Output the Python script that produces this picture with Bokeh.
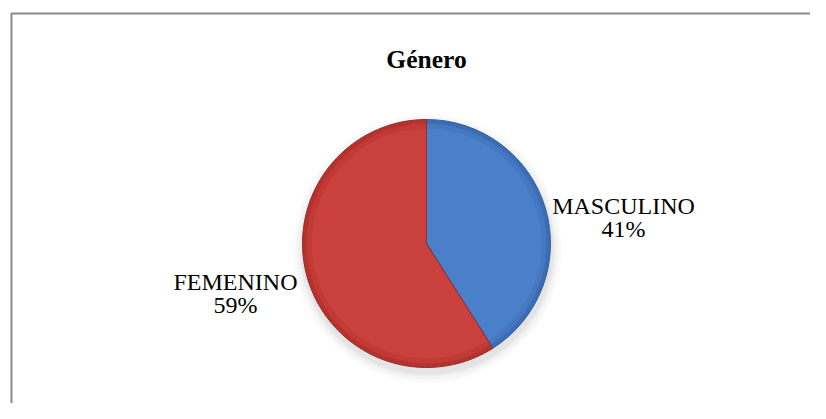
import math
from bokeh.plotting import figure
from bokeh.models import Range1d
from bokeh.core.properties import value
from bokeh.embed import file_html
from bokeh.resources import INLINE

# ---- data ----
title_text = "Género"
categories = ["MASCULINO", "FEMENINO"]
percents = [41, 59]
label_texts = ["41%", "59%"]

W, H = 810, 403
p = figure(width=W, height=H, output_backend="svg", toolbar_location=None,
           x_range=Range1d(0, W), y_range=Range1d(0, H), min_border=0,
           outline_line_color=None, background_fill_color="white")
p.axis.visible = False
p.grid.visible = False

# chart-area frame (only left and top visible in the crop)
p.line(x=[11, 11, W], y=[0, H - 13, H - 13], line_color="#8a8a8a", line_width=2)

cx, cy, r = 426, 160, 124

# angles (clockwise from 12 o'clock)
total = float(sum(percents))
starts, ends = [], []
a = math.pi / 2
for v in percents:
    starts.append(a)
    a = a - 2 * math.pi * v / total
    ends.append(a)

# soft shadow
for dr, al in [(10, 0.03), (7, 0.04), (4, 0.05), (2, 0.06)]:
    p.circle(x=[cx + 1], y=[cy - 5], radius=r + dr, fill_color="#606060",
             fill_alpha=al, line_color=None)

base_cols = ["#3c6db4", "#b5322f"]
mid_cols = ["#4479c2", "#c23a36"]
in_cols = ["#4a80c9", "#c9403c"]

for cols, rr in [(base_cols, r), (mid_cols, r - 4), (in_cols, r - 9)]:
    p.wedge(x=[cx] * 2, y=[cy] * 2, radius=rr, start_angle=ends, end_angle=starts,
            fill_color=cols, line_color=None)
# separators / edge
p.wedge(x=[cx] * 2, y=[cy] * 2, radius=r, start_angle=ends, end_angle=starts,
        fill_color=None, line_color=["#345f9e", "#9a2b28"], line_width=1)

font = value("Liberation Serif")
# title
p.text(x=[426], y=[344], text=[title_text], text_font=font, text_font_size="25.5px",
       text_font_style="bold", text_align="center", text_baseline="alphabetic",
       text_color="#000000")

# labels
lab_x = [623, 235]
lab_y1 = [198, 122]
lab_y2 = [175, 99]
p.text(x=lab_x, y=lab_y1, text=categories, text_font=font, text_font_size="24px",
       text_align="center", text_baseline="alphabetic", text_color="#000000")
p.text(x=lab_x, y=lab_y2, text=label_texts, text_font=font, text_font_size="24px",
       text_align="center", text_baseline="alphabetic", text_color="#000000")

open("out.html", "w").write(file_html(p, INLINE))
